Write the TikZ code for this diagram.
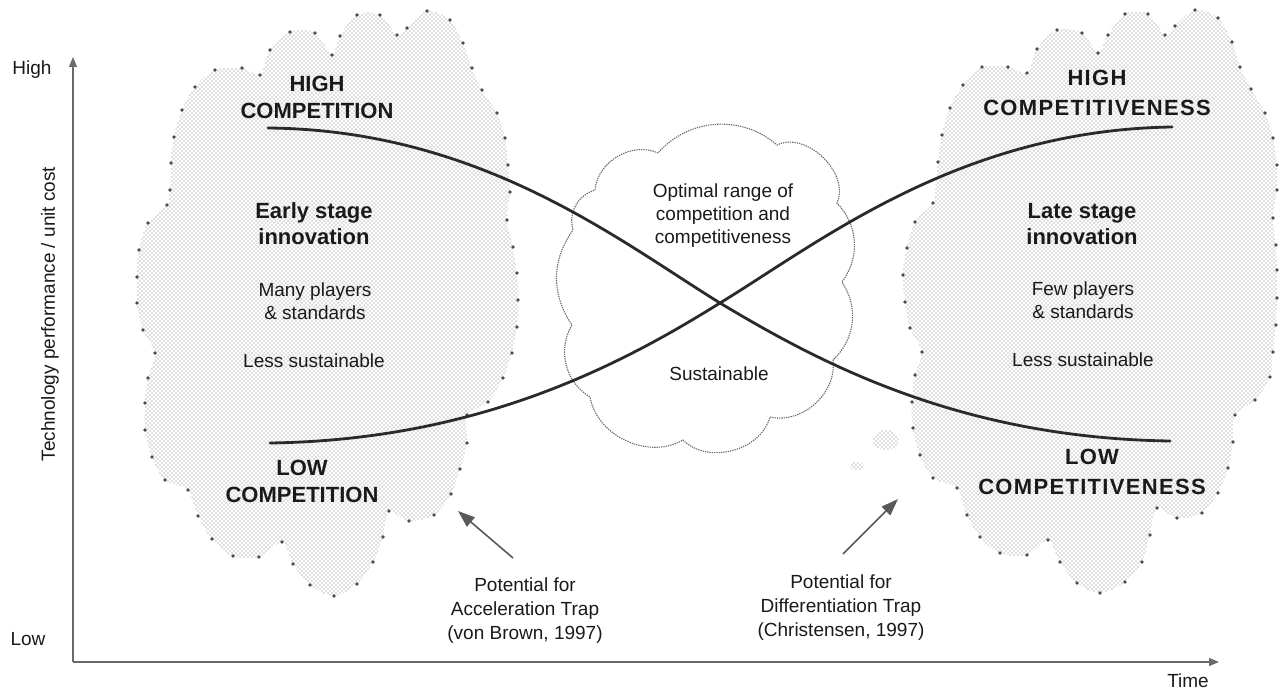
\documentclass[tikz,border=0pt]{standalone}
\usepackage{fontspec}
\setmainfont{Liberation Sans}
\newfontfamily\widesans[LetterSpace=6]{Liberation Sans}
\usetikzlibrary{arrows.meta,patterns}

% fine stipple used for the two shaded regions
\pgfdeclarepatternformonly{stipple}{\pgfqpoint{-1pt}{-1pt}}{\pgfqpoint{5pt}{5pt}}{\pgfqpoint{4pt}{4pt}}{%
  \pgfpathcircle{\pgfqpoint{0pt}{0pt}}{0.7pt}%
  \pgfpathcircle{\pgfqpoint{2pt}{2pt}}{0.7pt}%
  \pgfusepath{fill}}

\definecolor{ink}{HTML}{1A1A1A}
\definecolor{curve}{HTML}{2A2A2A}
\definecolor{axisgray}{HTML}{6A6A6A}

\tikzset{
  txt/.style={font=\fontsize{19}{23.5}\selectfont, align=center, inner sep=0pt, text=ink},
  heading/.style={font=\bfseries\fontsize{22}{27}\selectfont, align=center, inner sep=0pt, text=ink},
  wideheading/.style={font=\widesans\bfseries\fontsize{22}{30}\selectfont, align=center, inner sep=0pt, text=ink},
  region/.style={pattern=stipple, pattern color=black!55},
  rimdot/.style={fill=black!70, draw=none},
  trend/.style={draw=curve, line width=2.8pt, line cap=round},
  axisline/.style={draw=axisgray, line width=1.3pt, -{Triangle[length=10pt,width=8pt]}},
  pointer/.style={draw=black!65, line width=1.6pt, -{Triangle[length=17pt,width=12pt]}},
  cloudline/.style={draw=black!60, line width=1.1pt, dash pattern=on 1.3pt off 1pt},
}

\begin{document}
\begin{tikzpicture}[x=1pt, y=-1pt]
\useasboundingbox (0,0) rectangle (1280,693);

% ---------- shaded region, early stage ----------
\def\leftrim{(427,11) (450,20) (463,43) (472,68) (482,90) (497,113) (505,138) (508,165) (510,192) (507,220) (513,247) (517,273) (518,300) (517,327) (512,353) (503,378) (488,402) (467,415) (467,443) (460,469) (451,494) (434,515) (409,521) (389,511) (383,537) (373,562) (357,584) (334,596) (310,585) (293,564) (282,542) (259,557) (233,556) (212,539) (198,516) (188,490) (165,480) (152,457) (145,430) (145,403) (148,378) (155,353) (143,330) (137,303) (137,277) (139,250) (148,223) (167,205) (170,190) (171,163) (174,137) (182,110) (195,87) (215,70) (242,68) (260,75) (270,50) (290,32) (315,33) (332,55) (340,36) (357,15) (380,15) (397,35) (407,28)}
\path[region] plot[smooth cycle, tension=0.55] coordinates {\leftrim};
\foreach \p in {(427,11),(450,20),(463,43),(472,68),(482,90),(497,113),(505,138),(508,165),(510,192),(507,220),(513,247),(517,273),(518,300),(517,327),(512,353),(503,378),(488,402),(467,415),(467,443),(460,469),(451,494),(434,515),(409,521),(389,511),(383,537),(373,562),(357,584),(334,596),(310,585),(293,564),(282,542),(259,557),(233,556),(212,539),(198,516),(188,490),(165,480),(152,457),(145,430),(145,403),(148,378),(155,353),(143,330),(137,303),(137,277),(139,250),(148,223),(167,205),(170,190),(171,163),(174,137),(182,110),(195,87),(215,70),(242,68),(260,75),(270,50),(290,32),(315,33),(332,55),(340,36),(357,15),(380,15),(397,35),(407,28)}
  \fill[rimdot] \p circle (1.8pt);

% ---------- shaded region, late stage ----------
\def\rightrim{(1195,10) (1218,18) (1232,42) (1240,67) (1251,89) (1265,113) (1273,138) (1277,165) (1277,190) (1273,218) (1276,245) (1277,270) (1277,298) (1276,325) (1273,352) (1270,377) (1255,400) (1235,415) (1233,442) (1228,468) (1218,493) (1202,513) (1177,518) (1157,508) (1150,535) (1142,562) (1125,582) (1100,593) (1077,583) (1060,562) (1048,540) (1027,555) (1000,553) (980,537) (967,515) (957,488) (933,478) (920,455) (913,428) (912,402) (915,375) (922,352) (910,328) (905,302) (903,275) (907,248) (915,222) (933,203) (936,183) (938,162) (942,135) (950,108) (963,85) (982,67) (1008,67) (1027,73) (1037,49) (1057,30) (1082,33) (1098,53) (1108,35) (1125,14) (1148,14) (1165,35) (1175,26)}
\path[region] plot[smooth cycle, tension=0.55] coordinates {\rightrim};
\foreach \p in {(1195,10),(1218,18),(1232,42),(1240,67),(1251,89),(1265,113),(1273,138),(1277,165),(1277,190),(1273,218),(1276,245),(1277,270),(1277,298),(1276,325),(1273,352),(1270,377),(1255,400),(1235,415),(1233,442),(1228,468),(1218,493),(1202,513),(1177,518),(1157,508),(1150,535),(1142,562),(1125,582),(1100,593),(1077,583),(1060,562),(1048,540),(1027,555),(1000,553),(980,537),(967,515),(957,488),(933,478),(920,455),(913,428),(912,402),(915,375),(922,352),(910,328),(905,302),(903,275),(907,248),(915,222),(933,203),(938,162),(942,135),(950,108),(963,85),(982,67),(1008,67),(1027,73),(1037,49),(1057,30),(1082,33),(1098,53),(1108,35),(1125,14),(1148,14),(1165,35),(1175,26)}
  \fill[rimdot] \p circle (1.8pt);
% two stray specks of stipple
\path[region] (886,440) ellipse (13pt and 10pt);
\path[region] (857,466) ellipse (7pt and 4pt);

% ---------- cloud of the sustainable range ----------
\coordinate (c0) at (595,190);
\draw[cloudline] (c0) to[bend left=55] (658,153) to[bend left=45] (777,145)
  to[bend left=70] (837,203) to[bend left=40] (842,282) to[bend left=40] (833,360)
  to[bend left=55] (770,417) to[bend left=60] (683,440) to[bend left=55] (590,397)
  to[bend left=45] (572,325) to[bend left=35] (573,230) to[bend left=45] (c0);

% ---------- axes ----------
\coordinate (O) at (73,662);
\coordinate (ytip) at (73,57);
\coordinate (xtip) at (1219,662);
\draw[axisline] (O) -- (ytip);
\draw[axisline] (O) -- (xtip);
\node[txt] (high) at (32,70) {High};
\node[txt] (low) at (28,639) {Low};
\node[txt] (time) at (1188,681) {Time};
\node[txt, rotate=90] (ylabel) at (50,314) {Technology performance / unit cost};

% ---------- the two trend curves ----------
\coordinate (a1) at (268,128);
\coordinate (a2) at (1170,441);
\coordinate (b1) at (270,443);
\coordinate (b2) at (1172,127);
\coordinate (X) at (720,303);
\draw[trend] (a1) .. controls (480,130) and (618,240) .. (X) .. controls (820,363) and (960,438) .. (a2);
\draw[trend] (b1) .. controls (480,440) and (622,364) .. (X) .. controls (820,242) and (960,130) .. (b2);

% ---------- labels ----------
\node[heading] (hc) at (317,97) {HIGH\\COMPETITION};
\node[heading] (lc) at (302,481) {LOW\\COMPETITION};
\node[wideheading] (hcv) at (1097,93) {HIGH\\COMPETITIVENESS};
\node[wideheading] (lcv) at (1092,472) {LOW\\COMPETITIVENESS};

\node[heading, font=\bfseries\fontsize{22}{26}\selectfont] (early) at (314,224) {Early stage\\innovation};
\node[txt] (many) at (315,301) {Many players\\\& standards};
\node[txt] (lessl) at (314,361) {Less sustainable};

\node[heading, font=\bfseries\fontsize{22}{26}\selectfont] (late) at (1082,224) {Late stage\\innovation};
\node[txt] (few) at (1083,300) {Few players\\\& standards};
\node[txt] (lessr) at (1083,360) {Less sustainable};

\node[txt, font=\fontsize{19}{23}\selectfont] (optimal) at (723,216) {Optimal range of\\competition and\\competitiveness};
\node[txt] (sust) at (719,374) {Sustainable};

\node[txt, font=\fontsize{19}{24}\selectfont] (acc) at (525,611) {Potential for\\Acceleration Trap\\(von Brown, 1997)};
\node[txt, font=\fontsize{19}{24}\selectfont] (diff) at (841,608) {Potential for\\Differentiation Trap\\(Christensen, 1997)};

% ---------- pointers to the traps ----------
\coordinate (accT) at (513,558);
\coordinate (accH) at (458,511);
\coordinate (diffT) at (843,554);
\coordinate (diffH) at (898,499);
\draw[pointer] (accT) -- (accH);
\draw[pointer] (diffT) -- (diffH);
\end{tikzpicture}
\end{document}
